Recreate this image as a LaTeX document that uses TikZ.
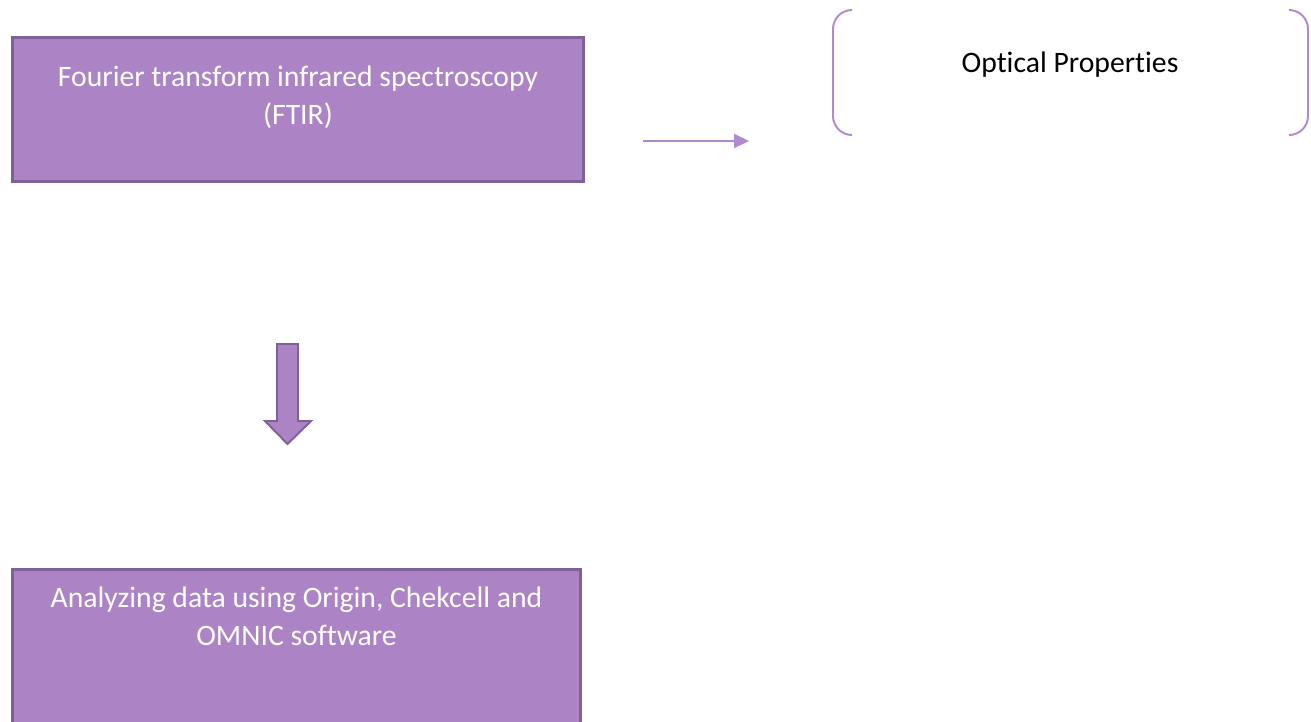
\documentclass[tikz,border=0pt]{standalone}
\usepackage{fontspec}
\setmainfont{Carlito}[Ligatures=NoCommon]
\usetikzlibrary{arrows.meta,positioning}
\definecolor{boxfill}{HTML}{AC84C6}
\definecolor{boxline}{HTML}{7E6199}
\definecolor{lilac}{HTML}{B08AD0}

\begin{document}
\begin{tikzpicture}[x=0.02cm,y=-0.02cm,
  >={Triangle[length=8.5pt,width=8pt]},
  stage/.style={draw=boxline, line width=1.7pt, fill=boxfill, inner sep=0pt},
  stagetxt/.style={text=white, font=\fontsize{16.9}{21.5}\selectfont,
                   align=center, inner sep=0pt, anchor=north},
  result/.style={font=\fontsize{16.9}{21.5}\selectfont, inner sep=0pt, anchor=base},
  brk/.style={draw=lilac, line width=1.1pt, rounded corners=0.38cm},
  thin/.style={->, draw=lilac, fill=lilac, line width=0.9pt},
  bigarrow/.style={draw=boxline, line width=1.1pt, fill=boxfill}
]
  \useasboundingbox (0,0) rectangle (1311,721);
  \clip (0,0) rectangle (1311,721);
  % measurement stage
  \node[stage, minimum width=11.42cm, minimum height=2.88cm] (ftir) at (298,109.5) {};
  \node[stagetxt] (ftirtxt) at (298,66) {Fourier transform infrared spectroscopy\\(FTIR)};
  % analysis stage (runs off the page bottom)
  \node[stage, minimum width=11.36cm, minimum height=3.41cm] (anal) at (296.5,654.75) {};
  \node[stagetxt] (analtxt) at (296.5,587) {Analyzing data using Origin, Chekcell and\\OMNIC software};
  % result
  \node[result] (optic) at (1070,72) {Optical Properties};
  \draw[brk] (852,10) -- (833,10) -- (833,135) -- (852,135);
  \draw[brk] (1289,10) -- (1308,10) -- (1308,135) -- (1289,135);
  % arrows
  \coordinate (a0) at (643,141);
  \coordinate (a1) at (749,141);
  \draw[thin] (a0) -- (a1);
  \draw[bigarrow] (277,344) -- (298,344) -- (298,421) -- (311,421) -- (287.5,444)
    -- (265,421) -- (277,421) -- cycle;
\end{tikzpicture}
\end{document}
